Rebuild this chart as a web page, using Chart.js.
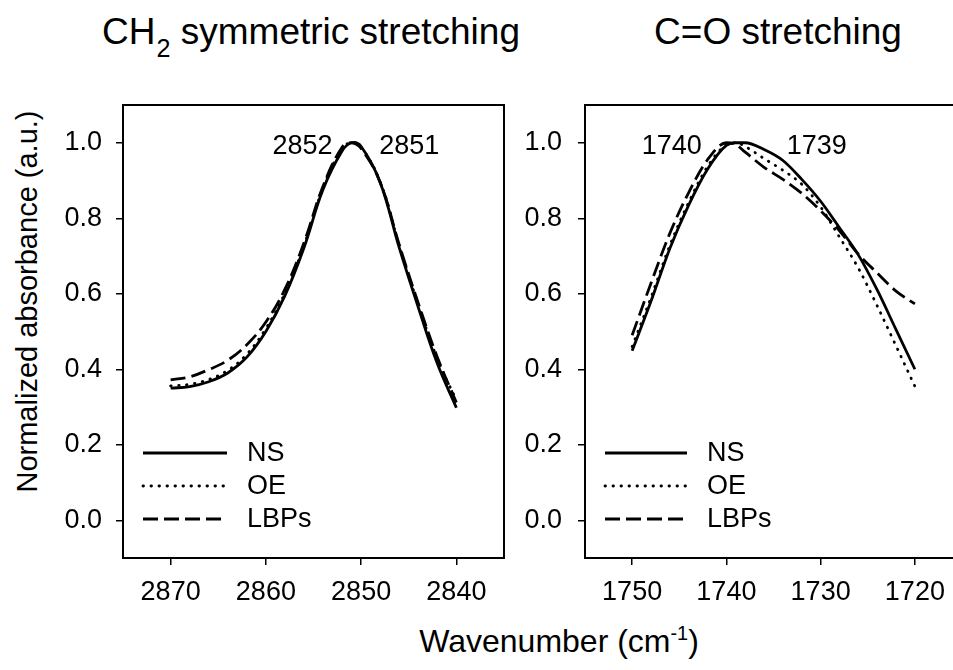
<!DOCTYPE html>
<html>
<head>
<meta charset="utf-8">
<script src="https://cdn.jsdelivr.net/npm/chart.js@4/dist/chart.umd.min.js"></script>
<style>
  html, body { margin: 0; padding: 0; background: #fff; }
  body { width: 953px; height: 670px; overflow: hidden; position: relative; font-family: "Liberation Sans", Arial, sans-serif; color: #000; }
  canvas { position: absolute; top: 0; }
  #ch2Chart { left: 0; }
  #coChart { left: 525px; }
  .label { position: absolute; line-height: 1; white-space: nowrap; }
  .title { font-size: 37px; top: 13px; transform: translateX(-50%); }
  .title sub { font-size: 0.68em; position: relative; top: 0.5em; vertical-align: baseline; margin-left: 1px; }
  #xTitle { font-size: 32px; left: 559px; top: 625px; transform: translateX(-50%); }
  #xTitle sup { font-size: 0.62em; position: relative; top: -0.6em; vertical-align: baseline; }
  #yTitle { font-size: 29px; width: 500px; text-align: center; left: -223px; top: 287px; transform: rotate(-90deg); }
</style>
</head>
<body>
<div class="label title" style="left:311px">CH<sub>2</sub> symmetric stretching</div>
<div class="label title" style="left:778px">C=O stretching</div>
<div class="label" id="yTitle">Normalized absorbance (a.u.)</div>
<div class="label" id="xTitle">Wavenumber (cm<sup>-1</sup>)</div>
<canvas id="ch2Chart" width="520" height="670"></canvas>
<canvas id="coChart" width="460" height="670"></canvas>

<script>
// DATA
const seriesNames = ['NS', 'OE', 'LBPs'];
const yTicks = [0, 0.2, 0.4, 0.6, 0.8, 1.0];

// CH2 symmetric stretching
const ch2Wavenumbers = [2870, 2868, 2866, 2864, 2862, 2860, 2858, 2856, 2854, 2852, 2851, 2850, 2848, 2846, 2844, 2842, 2840];
const ch2NS   = [0.350, 0.354, 0.367, 0.390, 0.432, 0.500, 0.595, 0.722, 0.876, 0.978, 1.000, 0.990, 0.895, 0.722, 0.564, 0.415, 0.298];
const ch2OE   = [0.356, 0.360, 0.373, 0.397, 0.440, 0.508, 0.602, 0.728, 0.880, 0.985, 1.000, 0.988, 0.897, 0.728, 0.571, 0.428, 0.318];
const ch2LBPs = [0.372, 0.380, 0.399, 0.424, 0.465, 0.525, 0.612, 0.735, 0.885, 0.988, 1.000, 0.985, 0.895, 0.730, 0.575, 0.432, 0.312];
const ch2Ticks = [2870, 2860, 2850, 2840];
const ch2Peaks = ['2852', '2851'];

// C=O stretching
const coWavenumbers = [1750, 1748, 1746, 1744, 1742, 1740, 1739, 1738, 1736, 1734, 1732, 1730, 1728, 1726, 1724, 1722, 1720];
const coNS   = [0.449, 0.580, 0.720, 0.835, 0.930, 0.993, 1.000, 1.000, 0.982, 0.953, 0.903, 0.845, 0.775, 0.703, 0.610, 0.505, 0.400];
const coOE   = [0.460, 0.590, 0.728, 0.842, 0.937, 0.995, 1.000, 0.990, 0.958, 0.927, 0.890, 0.830, 0.750, 0.668, 0.568, 0.462, 0.355];
const coLBPs = [0.490, 0.628, 0.760, 0.868, 0.955, 1.000, 0.995, 0.975, 0.935, 0.903, 0.866, 0.820, 0.767, 0.705, 0.655, 0.607, 0.573];
const coTicks = [1750, 1740, 1730, 1720];
const coPeaks = ['1740', '1739'];


const FONT = '"Liberation Sans", Arial, sans-serif';
Chart.defaults.font.family = FONT;
Chart.defaults.font.size = 27;
Chart.defaults.color = '#000';


// LINE STYLES (solid / dotted / dashed)
const lineStyles = [
  { borderDash: [], borderCapStyle: 'butt' },
  { borderDash: [0.5, 7.5], borderCapStyle: 'round' },
  { borderDash: [15, 6], borderCapStyle: 'butt' },
];

function makeDatasets(xs, seriesList, smooth) {
  return seriesList.map(function (values, i) {
    return {
      label: seriesNames[i],
      data: xs.map(function (x, j) { return { x: x, y: values[j] }; }),
      borderColor: '#000',
      borderWidth: 2.8,
      borderDash: lineStyles[i].borderDash,
      borderCapStyle: lineStyles[i].borderCapStyle,
      pointRadius: 0,
      fill: false,
      tension: smooth ? 0.4 : 0,
      cubicInterpolationMode: smooth ? 'default' : 'monotone',
    };
  });
}


// FRAME AROUND PLOT AREA
const frameBox = {
  id: 'frameBox',
  afterDraw(chart) {
    const a = chart.chartArea;
    const ctx = chart.ctx;
    ctx.save();
    ctx.strokeStyle = '#000';
    ctx.lineWidth = 2;
    ctx.strokeRect(a.left, a.top, a.right - a.left, a.bottom - a.top);
    ctx.restore();
  }
};

// LEGEND DRAWN INSIDE THE PLOT (lower left)
const insideLegend = {
  id: 'insideLegend',
  afterDatasetsDraw(chart, args, opts) {
    const a = chart.chartArea;
    const ctx = chart.ctx;
    chart.data.datasets.forEach(function (ds, i) {
      const y = a.top + opts.rowTop + i * opts.rowGap;
      ctx.save();
      ctx.strokeStyle = ds.borderColor;
      ctx.lineWidth = ds.borderWidth;
      ctx.setLineDash(ds.borderDash);
      ctx.lineCap = ds.borderCapStyle;
      ctx.beginPath();
      ctx.moveTo(a.left + opts.lineStart, y);
      ctx.lineTo(a.left + opts.lineEnd, y);
      ctx.stroke();
      ctx.setLineDash([]);
      ctx.fillStyle = '#000';
      ctx.font = '27px ' + FONT;
      ctx.textAlign = 'left';
      ctx.textBaseline = 'middle';
      ctx.fillText(ds.label, a.left + opts.textStart, y + 1);
      ctx.restore();
    });
  }
};

// PEAK POSITION LABELS
const peakText = {
  id: 'peakText',
  afterDatasetsDraw(chart, args, opts) {
    const ctx = chart.ctx;
    opts.items.forEach(function (it) {
      ctx.save();
      ctx.fillStyle = '#000';
      ctx.font = '27px ' + FONT;
      ctx.textAlign = it.align;
      ctx.textBaseline = 'middle';
      ctx.fillText(it.text, chart.scales.x.getPixelForValue(it.x), chart.scales.y.getPixelForValue(it.y));
      ctx.restore();
    });
  }
};


function makePanel(canvasId, xs, seriesList, smooth, xTicks, xMin, xMax, yAxisWidth, yPad, padRight, peaks, legendOpts) {
  const ctx = document.getElementById(canvasId).getContext('2d');
  return new Chart(ctx, {
    type: 'line',
    data: { datasets: makeDatasets(xs, seriesList, smooth) },
    options: {
      responsive: false,
      animation: false,
      devicePixelRatio: 1,
      layout: { padding: { top: 105, right: padRight, bottom: 0, left: 0 } },
      plugins: {
        legend: { display: false },
        tooltip: { enabled: false },
        insideLegend: legendOpts,
        peakText: { items: peaks },
      },
      scales: {
        x: {
          type: 'linear',
          reverse: true,
          min: xMin,
          max: xMax,
          afterBuildTicks: function (scale) { scale.ticks = xTicks.map(function (v) { return { value: v }; }); },
          afterFit: function (scale) { scale.height = 112; },
          ticks: { padding: 11, maxRotation: 0, autoSkip: false, callback: function (v) { return String(v); } },
          grid: { drawOnChartArea: false, drawTicks: true, tickLength: 7, color: '#000', lineWidth: 1.5 },
          border: { display: false },
        },
        y: {
          min: -0.1,
          max: 1.1,
          afterBuildTicks: function (scale) { scale.ticks = yTicks.map(function (v) { return { value: v }; }); },
          afterFit: function (scale) { scale.width = yAxisWidth; },
          ticks: { padding: yPad, callback: function (v) { return Number(v).toFixed(1); } },
          grid: { drawOnChartArea: false, drawTicks: true, tickLength: 7, color: '#000', lineWidth: 1.5 },
          border: { display: false },
        },
      },
    },
    plugins: [frameBox, insideLegend, peakText],
  });
}


makePanel('ch2Chart', ch2Wavenumbers, [ch2NS, ch2OE, ch2LBPs], true, ch2Ticks, 2835, 2875, 123, 14, 16,
  [
    { text: ch2Peaks[0], x: 2853.0, y: 0.99, align: 'right' },
    { text: ch2Peaks[1], x: 2848.1, y: 0.99, align: 'left' },
  ],
  { rowTop: 348, rowGap: 33, lineStart: 20, lineEnd: 104, textStart: 124 });

makePanel('coChart', coWavenumbers, [coNS, coOE, coLBPs], false, coTicks, 1715, 1755, 60, 16, 23,
  [
    { text: coPeaks[0], x: 1742.6, y: 0.99, align: 'right' },
    { text: coPeaks[1], x: 1733.6, y: 0.99, align: 'left' },
  ],
  { rowTop: 348, rowGap: 33, lineStart: 20, lineEnd: 102, textStart: 122 });
</script>
</body>
</html>
